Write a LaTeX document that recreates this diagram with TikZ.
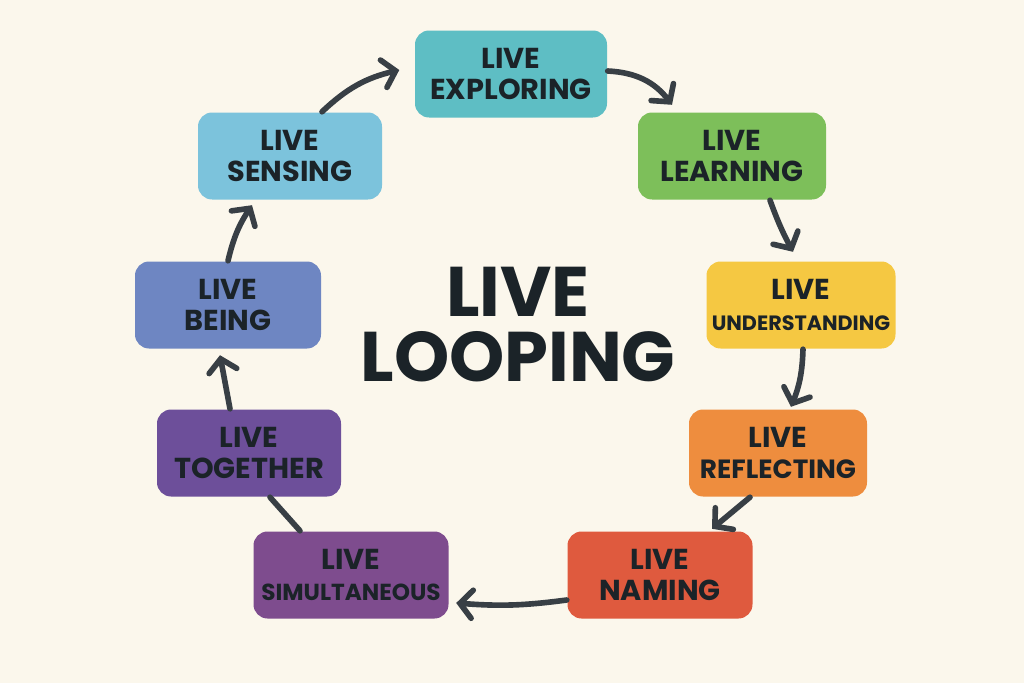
\documentclass[tikz,border=0pt]{standalone}
\usepackage{fontspec}
\setmainfont{Poppins}
\usetikzlibrary{arrows.meta, positioning}
\definecolor{loopBg}{HTML}{FBF7EC}
\definecolor{loopLine}{HTML}{383F45}
\definecolor{loopText}{HTML}{1B2328}
\definecolor{loopExplore}{HTML}{5EBEC4}
\definecolor{loopLearn}{HTML}{7DBF5A}
\definecolor{loopUnder}{HTML}{F5C842}
\definecolor{loopReflect}{HTML}{EE8D3E}
\definecolor{loopNaming}{HTML}{DF5A3E}
\definecolor{loopSimul}{HTML}{7E4C8E}
\definecolor{loopTogether}{HTML}{6D4F9A}
\definecolor{loopBeing}{HTML}{6E86C2}
\definecolor{loopSensing}{HTML}{7CC3DC}
\tikzset{
  loopfig/.style={
    every node/.append style={text=loopText},
    >={Straight Barb[length=3.5pt, width=8pt, line cap=round]},
  },
  stagebox/.style={
    fill=#1, draw=none, rounded corners=4pt, align=center,
    inner sep=0pt, minimum height=0.87cm,
    font=\fontsize{8.2}{8.6}\selectfont\bfseries,
  },
  flow/.style={draw=loopLine, line width=1.6pt, line cap=round, ->},
  link/.style={draw=loopLine, line width=1.6pt, line cap=round},
}
% kleinere Schrift fuer lange Woerter
\newcommand{\longword}[2]{{\fontsize{#1}{8}\selectfont #2}}
\begin{document}
\begin{tikzpicture}[loopfig]
  \fill[loopBg] (0,0) rectangle (10.24,6.83);

  \node[stagebox=loopExplore, minimum width=1.92cm] (explore) at (5.11,6.09) {LIVE\\EXPLORING};
  \node[stagebox=loopLearn, minimum width=1.88cm] (learn) at (7.32,5.27) {LIVE\\LEARNING};
  \node[stagebox=loopUnder, minimum width=1.89cm] (under) at (8.01,3.78) {LIVE\\\longword{5.9}{UNDERSTANDING}};
  \node[stagebox=loopReflect, minimum width=1.78cm] (reflect) at (7.78,2.30) {LIVE\\\longword{7.5}{REFLECTING}};
  \node[stagebox=loopNaming, minimum width=1.85cm] (naming) at (6.60,1.08) {LIVE\\NAMING};
  \node[stagebox=loopSimul, minimum width=1.95cm] (simul) at (3.51,1.08) {LIVE\\\longword{6.6}{SIMULTANEOUS}};
  \node[stagebox=loopTogether, minimum width=1.84cm] (together) at (2.49,2.30) {LIVE\\TOGETHER};
  \node[stagebox=loopBeing, minimum width=1.86cm] (being) at (2.28,3.78) {LIVE\\BEING};
  \node[stagebox=loopSensing, minimum width=1.84cm] (sensing) at (2.90,5.27) {LIVE\\SENSING};

  \node[font=\fontsize{20}{18.5}\selectfont\bfseries, align=center] (title) at (5.18,3.58) {LIVE\\LOOPING};

  \draw[flow] ([yshift=0.03cm]explore.east) to[bend left=25] ([xshift=-0.60cm, yshift=0.07cm]learn.north);
  \draw[flow] ([xshift=0.38cm]learn.south) to[bend right=4] ([xshift=-0.08cm, yshift=0.09cm]under.north);
  \draw[flow] ([xshift=0.02cm]under.south) to[bend left=10] ([xshift=0.13cm, yshift=0.02cm]reflect.north);
  \draw[flow] ([xshift=-0.28cm]reflect.south) -- ([xshift=0.52cm, yshift=0.02cm]naming.north);
  \draw[flow] ([yshift=-0.25cm]naming.west) to[bend left=6] ([xshift=0.07cm, yshift=-0.28cm]simul.east);
  \draw[link] ([xshift=0.21cm]together.south) -- ([xshift=-0.51cm]simul.north);
  \draw[flow] ([xshift=-0.19cm]together.north) -- ([xshift=-0.08cm, yshift=-0.06cm]being.south);
  \draw[flow] (being.north) to[bend left=10] ([xshift=-0.38cm, yshift=-0.05cm]sensing.south);
  \draw[flow] ([xshift=0.32cm]sensing.north) to[bend left=15] ([xshift=-0.15cm, yshift=0.04cm]explore.west);
\end{tikzpicture}
\end{document}
